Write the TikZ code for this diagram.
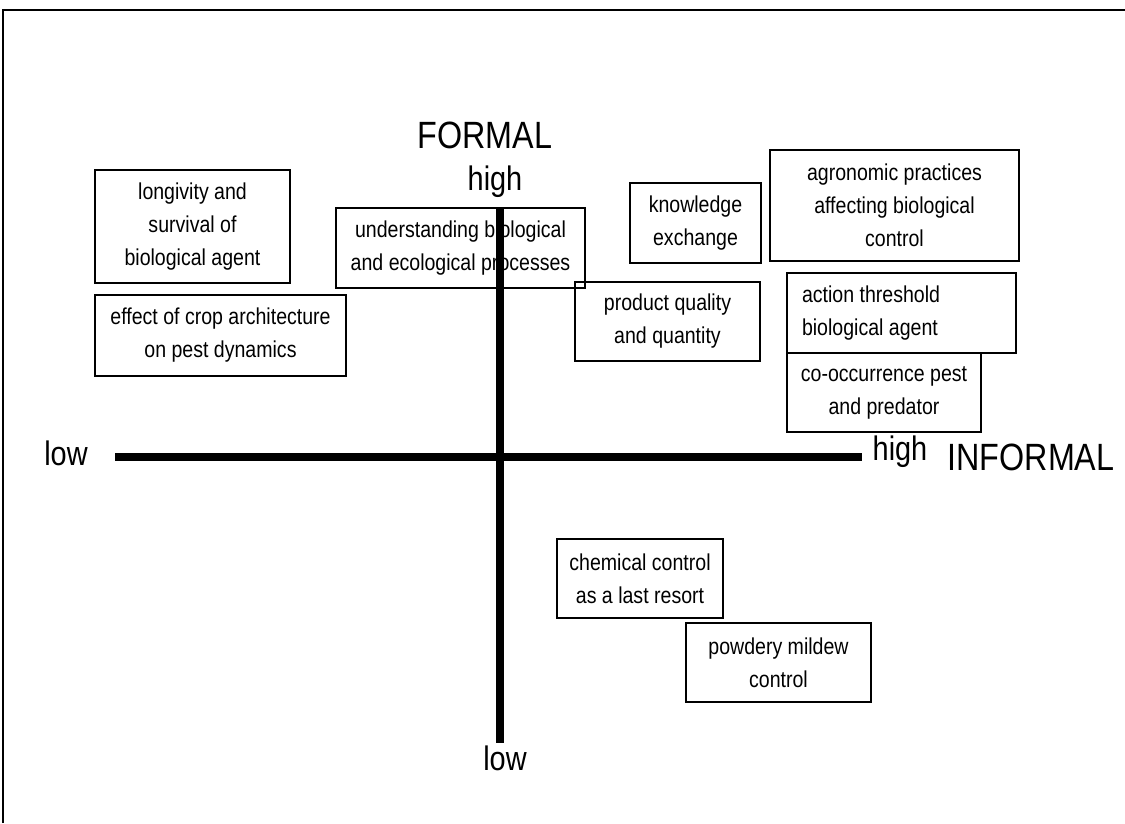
\documentclass[tikz,border=0pt]{standalone}
\usepackage{fontspec}
\setmainfont[FakeStretch=0.85]{Liberation Sans}
\begin{document}
\begin{tikzpicture}[x=1pt,y=-1pt,
  box/.style={draw, line width=2pt, inner sep=0pt, align=center,
    font=\fontsize{23}{33}\selectfont},
  axis/.style={line width=7.5pt},
  biglab/.style={anchor=base, inner sep=0pt, font=\fontsize{38}{40}\selectfont},
  lvl/.style={anchor=base, inner sep=0pt, font=\fontsize{34}{36}\selectfont}]
\useasboundingbox (0,0) rectangle (1125,823);
% frame
\coordinate (fbl) at (3,823);
\coordinate (ftl) at (3,10);
\coordinate (ftr) at (1125,10);
\draw[line width=2pt] (fbl) -- (ftl) -- (ftr);
% boxes
\node[box, minimum width=195pt, minimum height=113pt] (A) at (192.5,226.5) {longivity and\\survival of\\biological agent};
\node[box, minimum width=251pt, minimum height=81pt] (B) at (220.5,335.5) {effect of crop architecture\\on pest dynamics};
\node[box, minimum width=249pt, minimum height=80pt] (C) at (460.5,248) {understanding biological\\and ecological processes};
\node[box, minimum width=131pt, minimum height=80pt] (D) at (695.5,223) {knowledge\\exchange};
\node[box, minimum width=249pt, minimum height=111pt] (E) at (894.5,205.5) {agronomic practices\\affecting biological\\control};
\node[box, minimum width=185pt, minimum height=79pt] (F) at (667.5,321.5) {product quality\\and quantity};
\node[box, minimum width=229pt, minimum height=80pt, align=flush left, text width=199pt, inner xsep=15pt] (G) at (901.5,313) {action threshold\\biological agent};
\node[box, minimum width=194pt, minimum height=79pt] (H) at (884,392.5) {co-occurrence pest\\and predator};
\node[box, minimum width=166pt, minimum height=79pt] (I) at (640,578.5) {chemical control\\as a last resort};
\node[box, minimum width=185pt, minimum height=79pt] (J) at (778.5,662.5) {powdery mildew\\control};
% axes
\coordinate (vtop) at (500,207);
\coordinate (vbot) at (500,743);
\coordinate (hl) at (115,457);
\coordinate (hr) at (862,457);
\draw[axis] (hl) -- (hr);
\draw[axis] (vtop) -- (vbot);
% labels
\node[biglab] (formal) at (485,148) {FORMAL};
\node[lvl] (fhigh) at (495,190) {high};
\node[lvl] (flow) at (505,770) {low};
\node[lvl] (ilow) at (66,465) {low};
\node[lvl] (ihigh) at (900,460) {high};
\node[biglab] (informal) at (1031,470) {INFORMAL};
\end{tikzpicture}
\end{document}
